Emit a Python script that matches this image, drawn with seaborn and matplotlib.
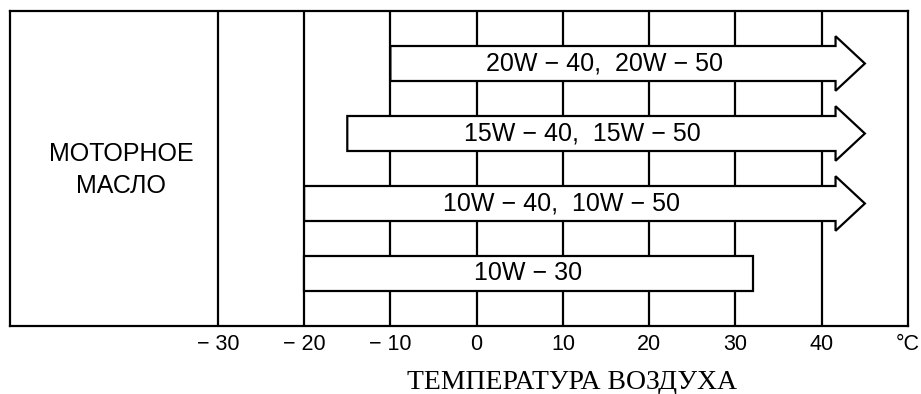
import matplotlib
matplotlib.use("Agg")
import matplotlib.pyplot as plt
from matplotlib.patches import Polygon
from matplotlib.transforms import blended_transform_factory
import seaborn as sns

# Oil grades and the air-temperature range (°C) each one covers
grades = ["20W − 40,  20W − 50", "15W − 40,  15W − 50", "10W − 40,  10W − 50", "10W − 30"]
t_low = [-10, -15, -20, -20]
t_high = [45, 45, 45, 32]
open_ended = [True, True, True, False]   # range continues past the scale -> arrow head
rows = [7.5, 5.5, 3.5, 1.5]

# Temperature scale
temps = [-30, -20, -10, 0, 10, 20, 30, 40]
temp_labels = ["− 30", "− 20", "− 10", "0", "10", "20", "30", "40"]
unit_label = "°C"

sns.set_theme(style="white")
plt.rcParams["font.family"] = ["Liberation Sans", "DejaVu Sans"]

LW = 1.6
BODY_H = 1.0      # body height in row units
HEAD_H = 1.56     # arrow-head height in row units
HEAD_L = 3.4      # arrow-head length in °C

fig = plt.figure(figsize=(9.21, 3.94), dpi=100)
ax = fig.add_axes([10 / 921, 68 / 394, 898 / 921, 315 / 394])
ax.set_xlim(-54.1, 50)
ax.set_ylim(0, 9)

# vertical temperature lines, hidden behind the range arrows
for t in temps:
    ax.axvline(t, color="black", lw=LW, zorder=1)

for name, lo, hi, is_open, y in zip(grades, t_low, t_high, open_ended, rows):
    top, bot = y + BODY_H / 2, y - BODY_H / 2
    if is_open:
        base = hi - HEAD_L
        pts = [(lo, top), (base, top), (base, y + HEAD_H / 2), (hi, y),
               (base, y - HEAD_H / 2), (base, bot), (lo, bot)]
        cx = (lo + base) / 2 - 1
    else:
        pts = [(lo, top), (hi, top), (hi, bot), (lo, bot)]
        cx = (lo + hi) / 2
    ax.add_patch(Polygon(pts, closed=True, facecolor="white", edgecolor="black",
                         lw=LW, joinstyle="miter", zorder=3))
    ax.text(cx, y, name, ha="center", va="center", fontsize=18, color="black", zorder=4)

ax.text(-41.2, 4.45, "МОТОРНОЕ\nМАСЛО", ha="center", va="center", fontsize=18,
        linespacing=1.4, color="black")

ax.set_xticks(temps + [50])
ax.set_xticklabels(temp_labels + [unit_label], fontsize=15.5, color="black")
ax.set_yticks([])
ax.tick_params(axis="x", length=0, pad=6)

for sp in ax.spines.values():
    sp.set_visible(True)
    sp.set_color("black")
    sp.set_linewidth(LW)

trans = blended_transform_factory(ax.transData, fig.transFigure)
ax.text(11, 0.03, "ТЕМПЕРАТУРА ВОЗДУХА", transform=trans, ha="center", va="center",
        fontsize=20, family=["Liberation Serif", "DejaVu Serif"], color="black")

fig.savefig("out.png", dpi=100, facecolor="white")
